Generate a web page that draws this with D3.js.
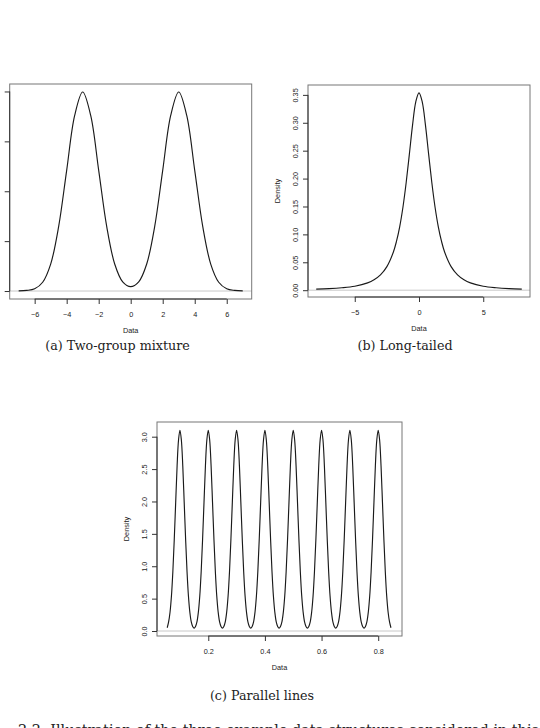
<!DOCTYPE html>
<html>
<head>
<meta charset="utf-8">
<script src="https://cdn.jsdelivr.net/npm/d3@7"></script>
<style>
  html, body { margin: 0; padding: 0; background: #fff; }
  svg { display: block; }
</style>
</head>
<body>
<svg id="fig" width="540" height="728"></svg>
<script>
// ---------- DATA ----------
// (a) Two-group mixture density
const mixX = [-7,-6.5,-6,-5.5,-5,-4.5,-4,-3.5,-3,-2.5,-2,-1.5,-1,-0.5,0,0.5,1,1.5,2,2.5,3,3.5,4,4.5,5,5.5,6,6.5,7];
const mixY = [0.0002,0.0006,0.0022,0.0088,0.027,0.0648,0.121,0.176,0.1995,0.176,0.121,0.0648,0.0271,0.0092,0.0044,0.0092,0.0271,0.0648,0.121,0.176,0.1995,0.176,0.121,0.0648,0.027,0.0088,0.0022,0.0006,0.0002];
const mixXTicks = [-6,-4,-2,0,2,4,6];
const mixYTicks = [0,0.05,0.10,0.15,0.20];

// (b) Long-tailed density
const tailX = [-8,-7,-6,-5,-4,-3.5,-3,-2.5,-2,-1.75,-1.5,-1.25,-1,-0.75,-0.5,-0.25,0,0.25,0.5,0.75,1,1.25,1.5,1.75,2,2.5,3,3.5,4,5,6,7,8];
const tailY = [0.0019,0.0027,0.0043,0.0071,0.0131,0.0186,0.0274,0.0422,0.068,0.0878,0.1141,0.1487,0.1925,0.2438,0.2963,0.3376,0.3536,0.3376,0.2963,0.2438,0.1925,0.1487,0.1141,0.0878,0.068,0.0422,0.0274,0.0186,0.0131,0.0071,0.0043,0.0027,0.0019];
const tailXTicks = [-5,0,5];
const tailYTicks = [0,0.05,0.10,0.15,0.20,0.25,0.30,0.35];

// (c) Parallel lines density
const parX = [
  0.055,0.06,0.065,0.07,0.075,0.08,0.085,0.09,0.095,0.1,0.105,0.11,0.115,0.12,0.125,0.13,0.135,0.14,0.145,
  0.15,0.155,0.16,0.165,0.17,0.175,0.18,0.185,0.19,0.195,0.2,0.205,0.21,0.215,0.22,0.225,0.23,0.235,0.24,0.245,
  0.25,0.255,0.26,0.265,0.27,0.275,0.28,0.285,0.29,0.295,0.3,0.305,0.31,0.315,0.32,0.325,0.33,0.335,0.34,0.345,
  0.35,0.355,0.36,0.365,0.37,0.375,0.38,0.385,0.39,0.395,0.4,0.405,0.41,0.415,0.42,0.425,0.43,0.435,0.44,0.445,
  0.45,0.455,0.46,0.465,0.47,0.475,0.48,0.485,0.49,0.495,0.5,0.505,0.51,0.515,0.52,0.525,0.53,0.535,0.54,0.545,
  0.55,0.555,0.56,0.565,0.57,0.575,0.58,0.585,0.59,0.595,0.6,0.605,0.61,0.615,0.62,0.625,0.63,0.635,0.64,0.645,
  0.65,0.655,0.66,0.665,0.67,0.675,0.68,0.685,0.69,0.695,0.7,0.705,0.71,0.715,0.72,0.725,0.73,0.735,0.74,0.745,
  0.75,0.755,0.76,0.765,0.77,0.775,0.78,0.785,0.79,0.795,0.8,0.805,0.81,0.815,0.82,0.825,0.83,0.835,0.84,0.845
];
const parY = [
  0.05,0.14,0.29,0.54,0.92,1.42,1.99,2.55,2.95,3.10,2.95,2.55,1.99,1.42,0.92,0.54,0.29,0.14,0.07,
  0.045,0.07,0.14,0.29,0.54,0.92,1.42,1.99,2.55,2.95,3.10,2.95,2.55,1.99,1.42,0.92,0.54,0.29,0.14,0.07,
  0.045,0.07,0.14,0.29,0.54,0.92,1.42,1.99,2.55,2.95,3.10,2.95,2.55,1.99,1.42,0.92,0.54,0.29,0.14,0.07,
  0.045,0.07,0.14,0.29,0.54,0.92,1.42,1.99,2.55,2.95,3.10,2.95,2.55,1.99,1.42,0.92,0.54,0.29,0.14,0.07,
  0.045,0.07,0.14,0.29,0.54,0.92,1.42,1.99,2.55,2.95,3.10,2.95,2.55,1.99,1.42,0.92,0.54,0.29,0.14,0.07,
  0.045,0.07,0.14,0.29,0.54,0.92,1.42,1.99,2.55,2.95,3.10,2.95,2.55,1.99,1.42,0.92,0.54,0.29,0.14,0.07,
  0.045,0.07,0.14,0.29,0.54,0.92,1.42,1.99,2.55,2.95,3.10,2.95,2.55,1.99,1.42,0.92,0.54,0.29,0.14,0.07,
  0.045,0.07,0.14,0.29,0.54,0.92,1.42,1.99,2.55,2.95,3.10,2.95,2.55,1.99,1.42,0.92,0.54,0.29,0.14,0.05
];
const parXTicks = [0.2,0.4,0.6,0.8];
const parYTicks = [0,0.5,1.0,1.5,2.0,2.5,3.0];

const captions = ["(a) Two-group mixture", "(b) Long-tailed", "(c) Parallel lines"];
const figCaption = "2.2: Illustration of the three example data structures considered in this";
const xLabel = "Data";
const yLabel = "Density";

// ---------- DRAWING ----------
const svg = d3.select("#fig");
svg.append("rect").attr("width", 540).attr("height", 728).attr("fill", "#fff");
const sans = "'Liberation Sans', Arial, Helvetica, sans-serif";
const serif = "'DejaVu Serif', 'Liberation Serif', serif";
const fs = 7.3;
const ink = "#222";

function minusFmt(d, dec) {
  const s = d3.format("." + dec + "f")(Math.abs(d));
  return (d < 0 ? "\u2212" : "") + s;
}

function panel(cfg) {
  const {box, xDom, yDom, xs, ys, xTicks, yTicks, xDec, yDec, yText} = cfg;
  const x = d3.scaleLinear().domain(xDom).range([box.l, box.r]);
  const y = d3.scaleLinear().domain(yDom).range([box.b, box.t]);
  const g = svg.append("g");

  // zero line (gray) across plot region
  g.append("line")
    .attr("x1", box.l).attr("x2", box.r)
    .attr("y1", y(0)).attr("y2", y(0))
    .attr("stroke", "#c8c8c8").attr("stroke-width", 1);

  // curve
  const pts = xs.map((v, i) => [v, ys[i]]);
  g.append("path")
    .datum(pts)
    .attr("fill", "none")
    .attr("stroke", "#1a1a1a")
    .attr("stroke-width", 1.15)
    .attr("d", d3.line().x(d => x(d[0])).y(d => y(d[1])).curve(d3.curveCatmullRom.alpha(0.5)));

  // box
  g.append("rect")
    .attr("x", box.l).attr("y", box.t)
    .attr("width", box.r - box.l).attr("height", box.b - box.t)
    .attr("fill", "none").attr("stroke", "#777").attr("stroke-width", 1);

  // x axis
  const xa = g.append("g").attr("transform", `translate(0,${box.b})`)
    .call(d3.axisBottom(x).tickValues(xTicks).tickSize(5).tickPadding(0)
      .tickFormat(d => minusFmt(d, xDec)));
  xa.select(".domain").attr("stroke", "#333").attr("d", `M${x(xTicks[0])},0H${x(xTicks[xTicks.length-1])}`);
  xa.selectAll(".tick line").attr("stroke", "#333");
  xa.selectAll(".tick text").attr("y", 17.6).attr("dy", null)
    .attr("font-family", sans).attr("font-size", fs).attr("fill", ink);

  // y axis (tick labels for panel (a) lie beyond the page edge in the reference)
  const ya = g.append("g").attr("transform", `translate(${box.l},0)`)
    .call(d3.axisLeft(y).tickValues(yTicks).tickSize(5).tickPadding(0)
      .tickFormat(d => yText ? minusFmt(d, yDec) : ""));
  ya.select(".domain").attr("stroke", "#333").attr("d", `M0,${y(yTicks[0])}V${y(yTicks[yTicks.length-1])}`);
  ya.selectAll(".tick line").attr("stroke", "#333");
  if (yText) {
    ya.selectAll(".tick text")
      .attr("x", null).attr("dy", null)
      .attr("text-anchor", "middle")
      .attr("transform", "translate(-10.4,0) rotate(-90)")
      .attr("font-family", sans).attr("font-size", fs).attr("fill", ink);
  } else {
    ya.selectAll(".tick text").remove();
  }

  // axis titles
  g.append("text")
    .attr("x", (box.l + box.r) / 2).attr("y", box.b + 33.6)
    .attr("text-anchor", "middle")
    .attr("font-family", sans).attr("font-size", fs).attr("fill", ink)
    .text(xLabel);
  if (yText) {
    g.append("text")
      .attr("transform", `translate(${box.l - 28.4},${(box.t + box.b) / 2}) rotate(-90)`)
      .attr("text-anchor", "middle")
      .attr("font-family", sans).attr("font-size", fs).attr("fill", ink)
      .text(yLabel);
  }
}

panel({
  box: {l: 9.7, r: 251.7, t: 84, b: 299},
  xDom: [-7.56, 7.56], yDom: [-0.008, 0.2075],
  xs: mixX, ys: mixY, xTicks: mixXTicks, yTicks: mixYTicks, xDec: 0, yDec: 2, yText: false
});
panel({
  box: {l: 308, r: 530, t: 85, b: 297},
  xDom: [-8.64, 8.64], yDom: [-0.0122, 0.3677],
  xs: tailX, ys: tailY, xTicks: tailXTicks, yTicks: tailYTicks, xDec: 0, yDec: 2, yText: true
});
panel({
  box: {l: 157, r: 402, t: 422, b: 636},
  xDom: [0.019, 0.884], yDom: [-0.077, 3.227],
  xs: parX, ys: parY, xTicks: parXTicks, yTicks: parYTicks, xDec: 1, yDec: 1, yText: true
});

// captions
const capPos = [[117.5, 350], [405, 350], [262, 700]];
captions.forEach((c, i) => {
  svg.append("text")
    .attr("x", capPos[i][0]).attr("y", capPos[i][1])
    .attr("text-anchor", "middle")
    .attr("font-family", serif).attr("font-size", 12.7).attr("fill", ink)
    .text(c);
});
svg.append("text")
  .attr("x", 18).attr("y", 734.5)
  .attr("font-family", serif).attr("font-size", 14.4).attr("fill", ink)
  .text(figCaption);
</script>
</body>
</html>
